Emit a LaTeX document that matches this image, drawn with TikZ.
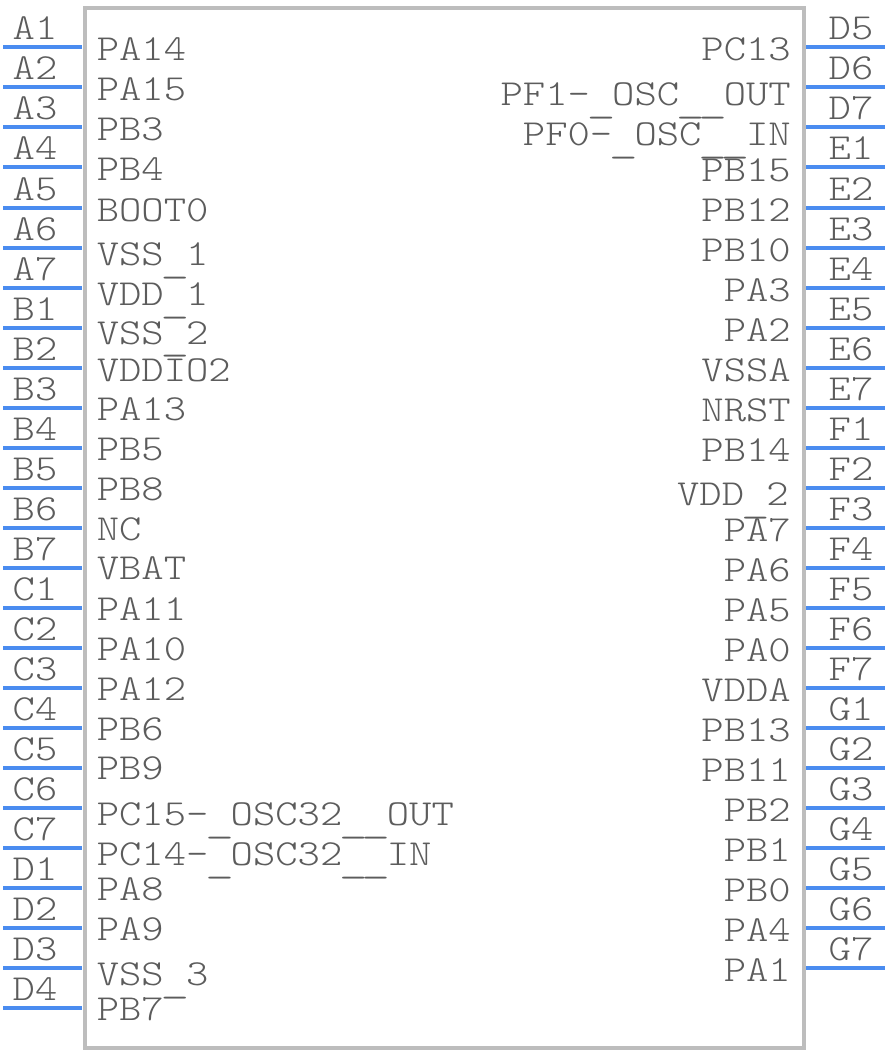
\documentclass[tikz,border=0pt]{standalone}
\usepackage{fontspec}
\usepackage{graphicx}
\newfontfamily\pinfont[FakeStretch=1.16]{Latin Modern Mono Light}
\definecolor{pinblue}{HTML}{4A8CF0}
\definecolor{boxgray}{HTML}{BDBDBD}
\definecolor{textgray}{HTML}{5C5C5C}
\newcommand\us{\raisebox{-5.2pt}{\makebox[16.7pt]{\scalebox{1.3}[1]{\_}}}}
\tikzset{
  body/.style={draw=boxgray,line width=3pt,fill=white,inner sep=0pt,outer sep=0pt,anchor=north west},
  pinline/.style={draw=pinblue,line width=3pt},
  txt/.style={text=textgray,inner sep=0pt,font=\pinfont\fontsize{27.5}{27.5}\selectfont},
  pinname/.style={txt,anchor=base},
  leftlabel/.style={txt,anchor=base west},
  rightlabel/.style={txt,anchor=base east}
}
\begin{document}
\begin{tikzpicture}[x=0.75pt,y=-0.75pt]
\useasboundingbox (0,0) rectangle (888,1052);
\node[body,minimum width=539.6pt,minimum height=780pt] (chip) at (84.5,8) {};
% left pins
\foreach \n/\yy in {A1/47,A2/87,A3/127,A4/167,A5/207,A6/247,A7/287,B1/327,B2/367,B3/407,B4/447,B5/487,B6/527,B7/567,C1/607,C2/647,C3/687,C4/727,C5/767,C6/807,C7/847,D1/887,D2/927,D3/967,D4/1007}{
  \coordinate (o\n) at (3,\yy.5);
  \coordinate (i\n) at (82,\yy.5);
  \draw[pinline] (o\n) -- (i\n);
  \node[pinname] (p\n) at (35,\yy-7) {\n};
}
% right pins
\foreach \n/\yy in {D5/47,D6/87,D7/127,E1/167,E2/207,E3/247,E4/287,E5/327,E6/367,E7/407,F1/447,F2/487,F3/527,F4/567,F5/607,F6/647,F7/687,G1/727,G2/767,G3/807,G4/847,G5/887,G6/927,G7/967}{
  \coordinate (o\n) at (885,\yy.5);
  \coordinate (i\n) at (806,\yy.5);
  \draw[pinline] (i\n) -- (o\n);
  \node[pinname] (p\n) at (851,\yy-7) {\n};
}
% left labels
\foreach \i/\t/\yy in {1/PA14/60.5,2/PA15/100.5,3/PB3/140.5,4/PB4/180.5,5/BOOT0/221,6/VSS\us 1/265.5,7/VDD\us 1/305.5,8/VSS\us 2/344,9/VDDIO2/381,10/PA13/420,11/PB5/460,12/PB8/500,13/NC/540,14/VBAT/579,15/PA11/620,16/PA10/660,17/PA12/700,18/PB6/740,19/PB9/779,20/PC15-\us OSC32\us\us OUT/825.5,21/PC14-\us OSC32\us\us IN/865.5,22/PA8/900.5,23/PA9/940.5,24/VSS\us 3/985.5,25/PB7/1020.5}{
  \node[leftlabel] (L\i) at (96.5,\yy) {\t};
}
% right labels
\foreach \i/\t/\yy in {1/PC13/61,2/PF1-\us OSC\us\us OUT/106,3/PF0-\us OSC\us\us IN/146,4/PB15/181,5/PB12/221,6/PB10/261,7/PA3/301,8/PA2/341,9/VSSA/381,10/NRST/421,11/PB14/461,13/PA7/541,14/PA6/581,15/PA5/621,16/PA0/661,17/VDDA/701,18/PB13/741,19/PB11/781,20/PB2/821,21/PB1/861,22/PB0/901,23/PA4/941,24/PA1/981}{
  \node[rightlabel] (R\i) at (791,\yy) {\t};
}
\node[rightlabel] (R12) at (789,505.5) {VDD\us 2};
\end{tikzpicture}
\end{document}
